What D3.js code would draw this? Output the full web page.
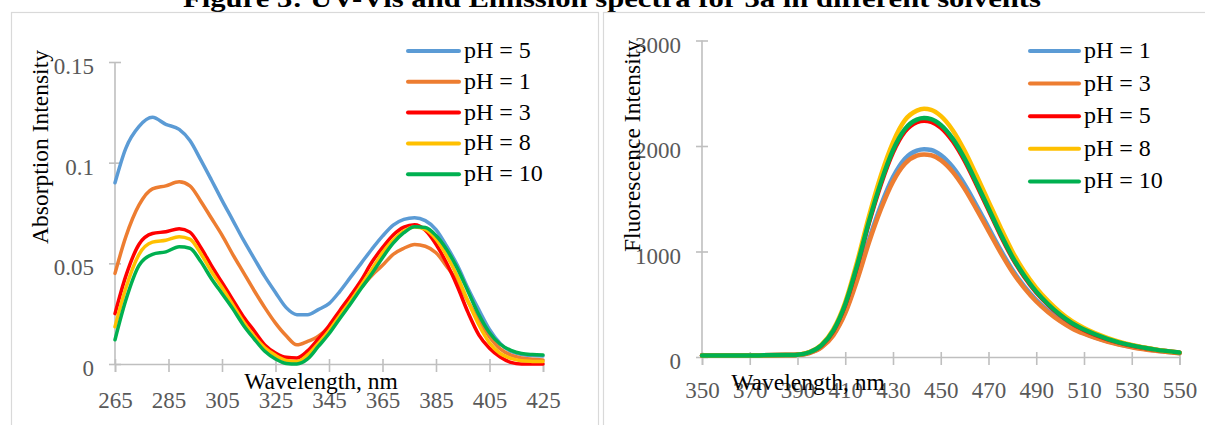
<!DOCTYPE html>
<html>
<head>
<meta charset="utf-8">
<script src="https://cdn.jsdelivr.net/npm/d3@7/dist/d3.min.js"></script>
<style>
html,body{margin:0;padding:0;background:#fff;}
svg{display:block;}
text{font-family:"Liberation Serif","Times New Roman",serif;}
</style>
</head>
<body>
<svg id="chart" width="1205" height="425"></svg>
<script>
// ---------- DATA ----------
const titleText = "Figure 3: UV-Vis and Emission spectra for 3a in different solvents";

// Left panel: absorption
const absWavelengths = [265,269,274,279,284,289,293,297,301,305,309,313,317,321,325,329,333,337,341,345,349,353,357,361,365,369,373,377,381,385,389,393,397,401,405,409,413,417,421,425];
const absLabels = ["pH = 5","pH = 1","pH = 3","pH = 8","pH = 10"];
const absPH5 = [0.090,0.107,0.118,0.1225,0.119,0.1165,0.111,0.1015,0.0915,0.0813,0.0715,0.0616,0.0525,0.0435,0.0355,0.028,0.0245,0.0245,0.027,0.030,0.036,0.043,0.050,0.057,0.0635,0.069,0.0718,0.0727,0.0712,0.0668,0.0585,0.049,0.0375,0.027,0.0172,0.0102,0.0062,0.0047,0.0042,0.004];
const absPH1 = [0.045,0.063,0.079,0.087,0.0885,0.0905,0.0885,0.081,0.0725,0.064,0.0545,0.0455,0.0365,0.028,0.0203,0.014,0.0095,0.0112,0.0138,0.0182,0.024,0.0315,0.038,0.044,0.049,0.0545,0.0575,0.0594,0.0585,0.0553,0.0485,0.041,0.031,0.0215,0.0135,0.0075,0.0044,0.003,0.0024,0.002];
const absPH3 = [0.025,0.0435,0.0595,0.0648,0.0657,0.0672,0.0655,0.058,0.049,0.0405,0.032,0.0235,0.0165,0.0095,0.0055,0.0033,0.003,0.0065,0.0125,0.019,0.0265,0.0338,0.0415,0.0505,0.0578,0.0641,0.068,0.0692,0.0665,0.0595,0.05,0.0385,0.0255,0.0145,0.0078,0.0035,0.0008,0,0,0];
const absPH8 = [0.0185,0.0375,0.0545,0.0605,0.0615,0.0632,0.062,0.055,0.046,0.038,0.0295,0.021,0.0138,0.008,0.0043,0.0018,0.0012,0.0045,0.0102,0.0165,0.024,0.0312,0.039,0.047,0.0552,0.0616,0.066,0.068,0.0668,0.062,0.0538,0.0435,0.031,0.0195,0.0105,0.0052,0.0028,0.0016,0.0013,0.0012];
const absPH10 = [0.012,0.0315,0.049,0.0545,0.0557,0.0582,0.0575,0.051,0.0425,0.035,0.0275,0.0193,0.0125,0.0063,0.0025,0.0003,0,0.0025,0.0087,0.015,0.0225,0.0298,0.0375,0.0448,0.0528,0.06,0.0652,0.0682,0.0678,0.0638,0.0568,0.0475,0.036,0.0245,0.0155,0.0098,0.0068,0.0052,0.0047,0.0045];
const absXTicks = [265,285,305,325,345,365,385,405,425];
const absYTicks = [0,0.05,0.1,0.15];
const absYTickLabels = ["0","0.05","0.1","0.15"];

// Right panel: fluorescence
const fluWavelengths = [350,370,385,390,395,400,405,410,415,420,425,430,435,440,443,446,450,455,460,465,470,475,480,485,490,495,500,505,510,520,530,540,550];
const fluLabels = ["pH = 1","pH = 3","pH = 5","pH = 8","pH = 10"];
const fluPH1 = [15,15,18,21,40,95,215,430,750,1115,1440,1705,1880,1957,1970,1962,1914,1801,1636,1436,1227,1018,827,670,540,436,348,279,226,148,96,61,37];
const fluPH3 = [15,15,18,21,38,90,205,415,730,1090,1405,1662,1832,1908,1920,1912,1866,1755,1594,1399,1196,992,806,653,526,424,339,271,220,144,93,59,36];
const fluPH5 = [15,15,18,22,44,108,246,495,862,1278,1643,1940,2138,2226,2240,2230,2176,2047,1860,1632,1395,1157,940,762,613,495,396,317,257,168,109,69,41];
const fluPH8 = [15,15,18,22,46,115,262,520,905,1340,1725,2035,2245,2335,2352,2342,2285,2150,1955,1720,1475,1230,1000,810,655,530,425,340,275,180,115,72,43];
const fluPH10 = [15,15,18,22,45,110,250,500,870,1290,1660,1960,2160,2250,2265,2255,2200,2070,1880,1650,1410,1170,950,770,620,500,400,320,260,170,110,70,42];
const fluXTicks = [350,370,390,410,430,450,470,490,510,530,550];
const fluYTicks = [0,1000,2000,3000];

const seriesColors = ["#5B9BD5","#ED7D31","#FF0000","#FFC000","#00B050"];

// ---------- DRAW ----------
const svg = d3.select("#chart");
svg.append("rect").attr("width",1205).attr("height",425).attr("fill","#fff");

// title (clipped at top)
svg.append("text").attr("x",612).attr("y",7).attr("text-anchor","middle")
  .attr("font-size",26).attr("font-weight","bold").attr("fill","#000")
  .attr("textLength",858).attr("lengthAdjust","spacingAndGlyphs")
  .text(titleText);

// panel frames
svg.append("rect").attr("x",11.5).attr("y",12.5).attr("width",587).attr("height",430)
  .attr("fill","none").attr("stroke","#d9d9d9").attr("stroke-width",1.2);
svg.append("rect").attr("x",603.5).attr("y",12.5).attr("width",620).attr("height",430)
  .attr("fill","none").attr("stroke","#d9d9d9").attr("stroke-width",1.2);

function panel(cfg){
  const g = svg.append("g");
  const x = d3.scaleLinear().domain(cfg.xDomain).range(cfg.xRange);
  const y = d3.scaleLinear().domain(cfg.yDomain).range(cfg.yRange);

  // x axis
  const xa = g.append("g").attr("transform",`translate(0,${cfg.yRange[0]})`)
    .call(d3.axisBottom(x).tickValues(cfg.xTicks).tickFormat(d3.format("d")).tickSize(8));
  xa.select(".domain").attr("stroke","#bfbfbf").attr("stroke-width",1.6);
  xa.selectAll(".tick line").attr("stroke","#bfbfbf").attr("stroke-width",1.6).attr("y1",-5).attr("y2",8);
  xa.selectAll(".tick text").attr("fill","#595959").attr("font-size",23)
    .attr("font-family","Liberation Serif").attr("y",cfg.xLabelDy).attr("dy",0);

  // y axis
  const ya = g.append("g").attr("transform",`translate(${cfg.xRange[0]},0)`)
    .call(d3.axisLeft(y).tickValues(cfg.yTicks).tickFormat((d,i)=>cfg.yTickLabels[i]).tickSize(6));
  ya.select(".domain").attr("stroke","#bfbfbf").attr("stroke-width",1.6);
  ya.selectAll(".tick line").attr("stroke","#bfbfbf").attr("stroke-width",1.6).attr("x1",-6).attr("x2",6);
  ya.selectAll(".tick text").attr("fill","#595959").attr("font-size",23)
    .attr("font-family","Liberation Serif").attr("x",-21).attr("dy",0).attr("y",11.5);
  ya.selectAll(".domain").attr("d",`M0,${cfg.yRange[0]}V${cfg.yRange[1]}`);

  // lines
  const line = d3.line().x((d,i)=>x(cfg.xs[i])).y(d=>y(d)).curve(d3.curveMonotoneX);
  cfg.series.forEach((s,i)=>{
    g.append("path").datum(s).attr("d",line).attr("fill","none")
      .attr("stroke",seriesColors[i]).attr("stroke-width",cfg.lw)
      .attr("stroke-linejoin","round").attr("stroke-linecap","round");
  });

  // axis titles
  g.append("text").attr("x",cfg.xTitlePos[0]).attr("y",cfg.xTitlePos[1]).attr("text-anchor","middle")
    .attr("font-size",23.5).attr("fill","#000").text("Wavelength, nm");
  g.append("text").attr("transform",`translate(${cfg.yTitlePos[0]},${cfg.yTitlePos[1]}) rotate(-90)`)
    .attr("text-anchor","middle").attr("font-size",23.5).attr("fill","#000").text(cfg.yTitle);

  // legend
  cfg.labels.forEach((lab,i)=>{
    const ly = cfg.legY0 + i*cfg.legStep;
    g.append("line").attr("x1",cfg.legX[0]).attr("x2",cfg.legX[1]).attr("y1",ly).attr("y2",ly)
      .attr("stroke",seriesColors[i]).attr("stroke-width",4).attr("stroke-linecap","round");
    g.append("text").attr("x",cfg.legX[1]+5).attr("y",ly+7).attr("font-size",24).attr("fill","#000").text(lab);
  });
}

panel({
  xDomain:[265,425], xRange:[115,543], yDomain:[0,0.15], yRange:[364,62],
  xTicks:absXTicks, yTicks:absYTicks, yTickLabels:absYTickLabels, xLabelDy:44,
  xs:absWavelengths, series:[absPH5,absPH1,absPH3,absPH8,absPH10], lw:3.5,
  labels:absLabels, legX:[408,459], legY0:51, legStep:30.8,
  xTitlePos:[321,389], yTitlePos:[48,147], yTitle:"Absorption Intensity"
});

panel({
  xDomain:[350,550], xRange:[702,1179.5], yDomain:[0,3000], yRange:[357,40.5],
  xTicks:fluXTicks, yTicks:fluYTicks, yTickLabels:fluYTicks.map(String), xLabelDy:41,
  xs:fluWavelengths, series:[fluPH1,fluPH3,fluPH5,fluPH8,fluPH10], lw:4.5,
  labels:fluLabels, legX:[1030,1079], legY0:51, legStep:32.6,
  xTitlePos:[808,390], yTitlePos:[640,146], yTitle:"Fluorescence Intensity"
});
</script>
</body>
</html>
